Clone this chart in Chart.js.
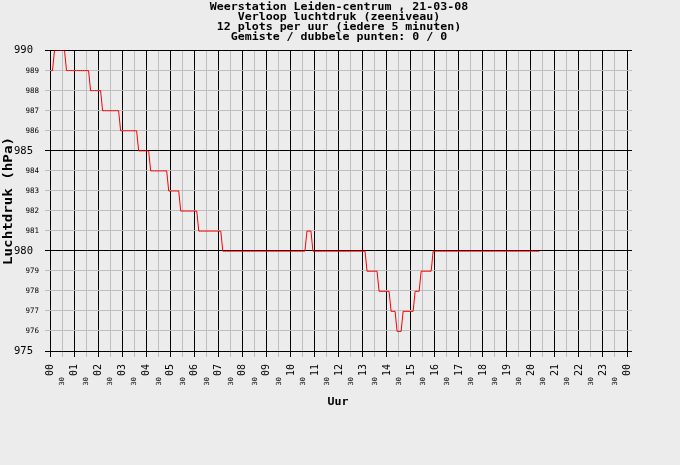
<!DOCTYPE html>
<html><head><meta charset="utf-8">
<script src="https://cdn.jsdelivr.net/npm/chart.js@4/dist/chart.umd.min.js"></script>
<style>html,body{margin:0;padding:0;background:#ececec;overflow:hidden}#wrap{width:680px;height:465px}</style>
</head><body><div id="wrap"><canvas id="c" width="680" height="465"></canvas></div>
<script>
const titleLines = [
  'Weerstation Leiden-centrum , 21-03-08',
  'Verloop luchtdruk (zeeniveau)',
  '12 plots per uur (iedere 5 minuten)',
  'Gemiste / dubbele punten: 0 / 0'
];
const yTitle = 'Luchtdruk (hPa)';
const xTitle = 'Uur';
const hourLabels = ['00','01','02','03','04','05','06','07','08','09','10','11','12','13','14','15','16','17','18','19','20','21','22','23','00'];
const halfLabel = '30';
const yTickValues = [975,976,977,978,979,980,981,982,983,984,985,986,987,988,989,990];
const yMajorStep = 5;
const sampleMinutes = 5;
// Luchtdruk per 5 minuten, 00:00 .. 20:20
const pressure = [
  989,989,990,990,990,990,990,990,989,989,989,989,
  989,989,989,989,989,989,989,989,988,988,988,988,
  988,988,987,987,987,987,987,987,987,987,987,986,
  986,986,986,986,986,986,986,986,985,985,985,985,
  985,985,984,984,984,984,984,984,984,984,984,983,
  983,983,983,983,983,982,982,982,982,982,982,982,
  982,982,981,981,981,981,981,981,981,981,981,981,
  981,981,980,980,980,980,980,980,980,980,980,980,
  980,980,980,980,980,980,980,980,980,980,980,980,
  980,980,980,980,980,980,980,980,980,980,980,980,
  980,980,980,980,980,980,980,980,981,981,981,980,
  980,980,980,980,980,980,980,980,980,980,980,980,
  980,980,980,980,980,980,980,980,980,980,980,980,
  980,980,979,979,979,979,979,979,978,978,978,978,
  978,978,977,977,977,976,976,976,977,977,977,977,
  977,977,978,978,978,979,979,979,979,979,979,980,
  980,980,980,980,980,980,980,980,980,980,980,980,
  980,980,980,980,980,980,980,980,980,980,980,980,
  980,980,980,980,980,980,980,980,980,980,980,980,
  980,980,980,980,980,980,980,980,980,980,980,980,
  980,980,980,980,980
];

const BG = '#ececec';
const MINOR = '#bebebe';
const MAJOR = '#000000';
const MONO = '"DejaVu Sans Mono", monospace';

const points = pressure.map((v, i) => ({ x: i * sampleMinutes / 60, y: v }));

function stretchedText(c, text, x, y, sx) {
  c.save();
  c.translate(x, y);
  c.scale(sx, 1);
  c.fillText(text, 0, 0);
  c.restore();
}

const labelPlugin = {
  id: 'labels',
  beforeDraw(chart) {
    const c = chart.ctx;
    c.save();
    c.fillStyle = BG;
    c.fillRect(0, 0, chart.width, chart.height);
    c.restore();
  },
  beforeDatasetsDraw(chart) {
    chart.ctx.save();
    chart.ctx.translate(0.5, 0.5);
  },
  afterDatasetsDraw(chart) {
    chart.ctx.restore();
  },
  afterDraw(chart) {
    const c = chart.ctx;
    const xs = chart.scales.x, ys = chart.scales.y;
    c.save();
    c.fillStyle = '#000';
    // titles
    c.font = 'bold 10px ' + MONO;
    c.textAlign = 'center';
    c.textBaseline = 'middle';
    titleLines.forEach((t, i) => stretchedText(c, t, 339, 7.5 + i * 10, 1.16));
    // y labels
    c.textAlign = 'right';
    yTickValues.forEach(v => {
      const y = ys.getPixelForValue(v);
      if (v % yMajorStep === 0) {
        c.font = '10.5px ' + MONO;
        c.fillText(String(v), 33, y + 0.5);
      } else {
        c.font = '7.5px ' + MONO;
        c.fillText(String(v), 39, y + 0.5);
      }
    });
    // x labels
    hourLabels.forEach((lab, h) => {
      const x = xs.getPixelForValue(h);
      c.save();
      c.translate(x + 0.5, 364);
      c.rotate(-Math.PI / 2);
      c.font = '10px ' + MONO;
      c.textAlign = 'right';
      c.textBaseline = 'middle';
      c.fillText(lab, 0, 0);
      c.restore();
      if (h < hourLabels.length - 1) {
        const x2 = xs.getPixelForValue(h + 0.5);
        c.save();
        c.translate(x2 + 0.5, 377);
        c.rotate(-Math.PI / 2);
        c.font = '7px ' + MONO;
        c.textAlign = 'right';
        c.textBaseline = 'middle';
        c.fillText(halfLabel, 0, 0);
        c.restore();
      }
    });
    // axis titles
    c.font = 'bold 10px ' + MONO;
    c.textAlign = 'center';
    c.textBaseline = 'middle';
    stretchedText(c, xTitle, 338, 402, 1.16);
    c.save();
    c.translate(9, 201);
    c.rotate(-Math.PI / 2);
    c.font = 'bold 12px ' + MONO;
    c.scale(1.18, 1);
    c.fillText(yTitle, 0, 0);
    c.restore();
    c.restore();
  }
};

new Chart(document.getElementById('c'), {
  type: 'line',
  data: {
    datasets: [{
      data: points,
      borderColor: '#ff0000',
      borderWidth: 1,
      pointRadius: 0,
      tension: 0,
      fill: false
    }]
  },
  options: {
    responsive: false,
    animation: false,
    devicePixelRatio: 1,
    layout: { padding: { left: 45, right: 48, top: 50, bottom: 108 } },
    plugins: { legend: { display: false }, tooltip: { enabled: false }, title: { display: false } },
    scales: {
      x: {
        type: 'linear', min: 0, max: 24,
        ticks: { display: false, stepSize: 0.5, autoSkip: false, maxTicksLimit: 100 },
        grid: {
          color: ctx => (ctx.tick && Number.isInteger(ctx.tick.value)) ? MAJOR : MINOR,
          lineWidth: 1, tickLength: 6, drawTicks: true
        },
        border: { display: false }
      },
      y: {
        type: 'linear', min: 975, max: 990,
        ticks: { display: false, stepSize: 1, autoSkip: false, maxTicksLimit: 100 },
        grid: {
          color: ctx => (ctx.tick && ctx.tick.value % yMajorStep === 0) ? MAJOR : MINOR,
          lineWidth: 1, tickLength: 5, drawTicks: true
        },
        border: { display: false }
      },
      yRight: {
        type: 'linear', position: 'right', min: 975, max: 990,
        ticks: { display: false, stepSize: 1, autoSkip: false, maxTicksLimit: 100 },
        grid: {
          color: ctx => (ctx.tick && ctx.tick.value % yMajorStep === 0) ? MAJOR : MINOR,
          lineWidth: 1, tickLength: 5, drawTicks: true, drawOnChartArea: false
        },
        border: { display: false }
      }
    }
  },
  plugins: [labelPlugin]
});
</script>
</body></html>
